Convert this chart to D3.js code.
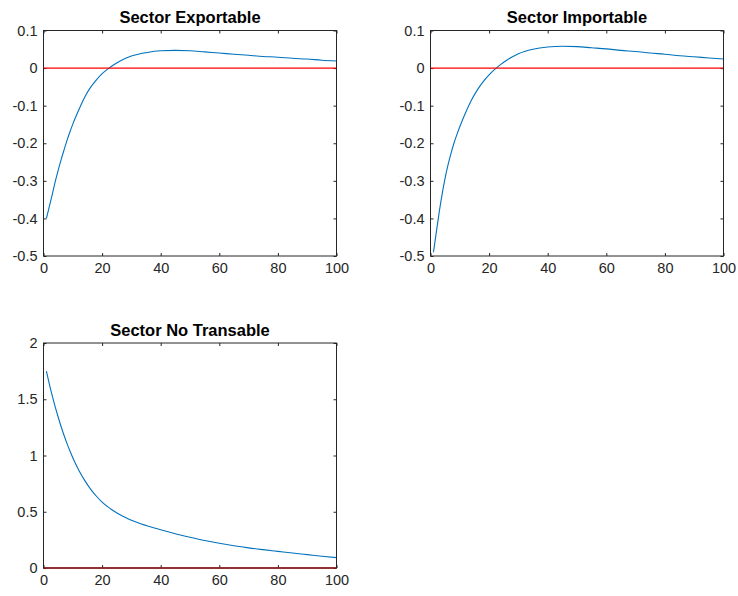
<!DOCTYPE html>
<html>
<head>
<meta charset="utf-8">
<script src="https://cdn.jsdelivr.net/npm/d3@7"></script>
<style>
  body { margin: 0; background: #fff; }
  svg { display: block; font-family: "Liberation Sans", Arial, sans-serif; }
</style>
</head>
<body>
<svg width="738" height="596"></svg>
<script>
// periods (denser where the curves bend)
var periods = [1, 2, 3, 4, 5, 6, 7, 8, 9, 10, 12, 14, 16, 18, 20, 22, 24, 26, 28, 30,
  35, 40, 45, 50, 55, 60, 65, 70, 75, 80, 85, 90, 95, 100];

var exportable = [-0.400, -0.368, -0.336, -0.302, -0.272, -0.244, -0.218, -0.193, -0.170, -0.149,
  -0.112, -0.078, -0.052, -0.032, -0.015, -0.002, 0.009, 0.018, 0.026, 0.032,
  0.041, 0.046, 0.047, 0.046, 0.043, 0.040, 0.037, 0.034, 0.031, 0.029, 0.026, 0.024, 0.021, 0.019];

var importable = [-0.490, -0.436, -0.382, -0.334, -0.292, -0.257, -0.227, -0.200, -0.177, -0.156,
  -0.118, -0.085, -0.058, -0.036, -0.018, -0.003, 0.010, 0.021, 0.030, 0.038,
  0.050, 0.056, 0.058, 0.057, 0.054, 0.051, 0.047, 0.044, 0.040, 0.037, 0.033, 0.030, 0.027, 0.024];

var noTransable = [1.75, 1.635, 1.53, 1.432, 1.342, 1.258, 1.18, 1.108, 1.042, 0.98,
  0.872, 0.781, 0.704, 0.64, 0.586, 0.543, 0.507, 0.476, 0.449, 0.425,
  0.378, 0.34, 0.305, 0.274, 0.245, 0.22, 0.198, 0.179, 0.163, 0.148, 0.133, 0.119, 0.105, 0.092];

var xTicks = [0, 20, 40, 60, 80, 100];
var yTicksTrade = [-0.5, -0.4, -0.3, -0.2, -0.1, 0, 0.1];
var yTicksNonTrade = [0, 0.5, 1, 1.5, 2];
var refLevel = 0;

var svg = d3.select("svg");
var axisColor = "#262626";

function panel(title, values, yTicks, box) {
  var w = box.w, h = box.h;
  var g = svg.append("g").attr("transform", "translate(" + box.x + "," + box.y + ")");

  var x = d3.scaleLinear().domain([0, 100]).range([0, w]);
  var y = d3.scaleLinear().domain(d3.extent(yTicks)).range([h, 0]);
  var fmt = function (d) { return String(d); };

  // tick marks point inward, on all four sides
  var axes = [
    { a: d3.axisBottom(x).tickValues(xTicks).tickFormat(fmt), t: "translate(0," + h + ")", pad: 7 },
    { a: d3.axisLeft(y).tickValues(yTicks).tickFormat(fmt), t: "translate(0,0)", pad: 6 },
    { a: d3.axisTop(x).tickValues(xTicks).tickFormat(""), t: "translate(0,0)", pad: 6 },
    { a: d3.axisRight(y).tickValues(yTicks).tickFormat(""), t: "translate(" + w + ",0)", pad: 6 }
  ];
  axes.forEach(function (d) {
    var ax = g.append("g").attr("transform", d.t)
      .call(d.a.tickSizeInner(-3).tickSizeOuter(0).tickPadding(d.pad));
    ax.select(".domain").remove();
    ax.selectAll("line").attr("stroke", axisColor);
    ax.selectAll("text").attr("fill", axisColor).style("font-size", "14.5px")
      .style("font-family", "'Liberation Sans', Arial, sans-serif");
  });

  var line = d3.line()
    .x(function (d, i) { return x(periods[i]); })
    .y(function (d) { return y(d); })
    .curve(d3.curveMonotoneX);

  g.append("path").datum(values)
    .attr("d", line)
    .attr("fill", "none")
    .attr("stroke", "#0072BD")
    .attr("stroke-width", 1.1);

  g.append("line")
    .attr("x1", x(0)).attr("x2", x(100))
    .attr("y1", y(refLevel)).attr("y2", y(refLevel))
    .attr("stroke", "#FF0000")
    .attr("stroke-width", 1.3);

  g.append("rect")
    .attr("width", w).attr("height", h)
    .attr("fill", "none")
    .attr("stroke", axisColor)
    .attr("stroke-width", 1);

  g.append("text")
    .attr("x", w / 2).attr("y", -7.5)
    .attr("text-anchor", "middle")
    .style("font-weight", "bold")
    .style("font-size", "16.5px")
    .attr("fill", "#000")
    .text(title);
}

panel("Sector Exportable", exportable, yTicksTrade, { x: 43.5, y: 30.5, w: 293, h: 225.5 });
panel("Sector Importable", importable, yTicksTrade, { x: 430.5, y: 30.5, w: 293, h: 225.5 });
panel("Sector No Transable", noTransable, yTicksNonTrade, { x: 43.5, y: 343, w: 293, h: 225 });
</script>
</body>
</html>
